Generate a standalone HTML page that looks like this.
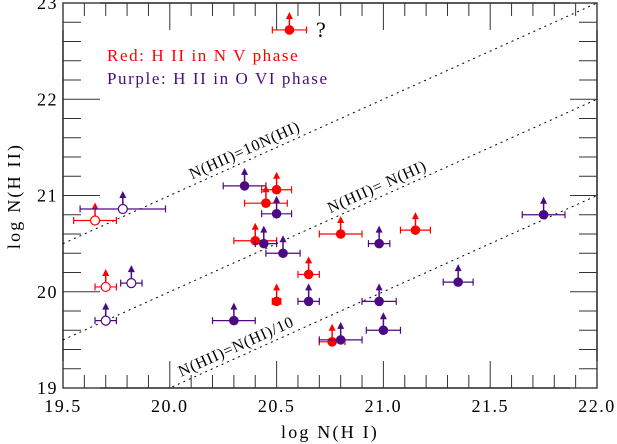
<!DOCTYPE html>
<html><head><meta charset="utf-8"><style>
body{margin:0;background:#fff}
svg{display:block}
text{font-family:"Liberation Serif",serif;fill:#000}
</style></head><body>
<svg id="chart" width="617" height="444" viewBox="0 0 617 444" xmlns="http://www.w3.org/2000/svg">
<defs><clipPath id="clip"><rect x="63" y="3" width="534" height="385"/></clipPath></defs>
<g id="lines" clip-path="url(#clip)"></g>
<g id="axes"></g>
<g id="marks"></g>
<text x="107" y="61" font-size="17" letter-spacing="1.6" style="fill:#ff0000">Red: H II in N V phase</text>
<text x="107" y="84" font-size="17" letter-spacing="1.6" style="fill:#4b0a82">Purple: H II in O VI phase</text>
<text x="316" y="37" font-size="22">?</text>
<text x="330" y="438" font-size="18" letter-spacing="2.2" text-anchor="middle">log N(H I)</text>
<text x="0" y="0" font-size="18" letter-spacing="2.2" text-anchor="middle" transform="translate(20,196) rotate(-90)">log N(H II)</text>
</svg>
<script>
const xVals = [20.56,19.65,19.78,20.35,20.50,20.45,20.50,20.40,20.44,20.53,19.70,19.82,19.70,20.30,20.50,20.65,20.80,20.98,21.15,20.65,20.98,21.00,20.76,20.80,21.35,21.75];
const yVals = [22.72,20.74,20.86,21.10,21.06,20.92,20.81,20.53,20.50,20.40,20.05,20.09,19.70,19.70,19.90,19.90,20.60,20.50,20.64,20.18,19.90,19.60,19.48,19.50,20.10,20.80];
const xLo   = [20.48,19.55,19.58,20.25,20.43,20.35,20.43,20.30,20.40,20.45,19.65,19.77,19.65,20.20,20.48,20.60,20.70,20.93,21.08,20.60,20.90,20.92,20.70,20.70,21.28,21.65];
const xHi   = [20.64,19.75,19.98,20.45,20.57,20.55,20.57,20.50,20.50,20.61,19.75,19.87,19.75,20.40,20.52,20.70,20.90,21.03,21.22,20.70,21.06,21.08,20.82,20.90,21.42,21.85];
const phase = ["N","N","O","O","N","N","O","N","O","O","N","O","O","O","N","O","N","O","N","N","O","O","N","O","O","O"];
const hollow= [0,1,1,0,0,0,0,0,0,0,1,1,1,0,0,0,0,0,0,0,0,0,0,0,0,0];
const xTicks = ["19.5","20.0","20.5","21.0","21.5","22.0"];
const yTicks = ["19","20","21","22","23"];
const ratios = [1,0,-1];
const ratioLabels = ["N(HII)=10N(HI)","N(HII)= N(HI)","N(HII)=N(HI)/10"];
const ratioLabelX = [20.36,20.98,20.32];

const NS="http://www.w3.org/2000/svg";
const L=63,R=597,T=3,B=388;
const sx=v=>L+(v-19.5)*(R-L)/2.5;
const sy=v=>B-(v-19)*(B-T)/4;
function mk(tag,attrs,parent){const e=document.createElementNS(NS,tag);for(const k in attrs)e.setAttribute(k,attrs[k]);parent.appendChild(e);return e;}
const axes=document.getElementById('axes'),marks=document.getElementById('marks'),lines=document.getElementById('lines');
const svg=document.getElementById('chart');

ratios.forEach((d,i)=>{
  const ln=mk('line',{x1:sx(19.5),y1:sy(19.5+d),x2:sx(22),y2:sy(22+d),stroke:'#000','stroke-width':1,'stroke-dasharray':'2,4'},lines);
  
  
  const ang=-Math.atan((B-T)/4/((R-L)/2.5))*180/Math.PI;
  const lx=sx(ratioLabelX[i]), ly=sy(ratioLabelX[i]+d)-6;
  const t=mk('text',{x:lx,y:ly,'font-size':16,'letter-spacing':0.8,'text-anchor':'middle',transform:`rotate(${ang} ${lx} ${ly})`},svg);
  t.textContent=ratioLabels[i];
  
  
});

const fr=mk('rect',{x:L,y:T,width:R-L,height:B-T,fill:'none',stroke:'#000','stroke-width':1.3},axes);


for(let k=0;k<=25;k++){
  const v=19.5+k*0.1, x=sx(v), len=(k%5===0)?27:13;
  mk('line',{x1:x,y1:B,x2:x,y2:B-len,stroke:'#333','stroke-width':1},axes);
  mk('line',{x1:x,y1:T,x2:x,y2:T+len,stroke:'#333','stroke-width':1},axes);
}
xTicks.forEach(s=>{const v=parseFloat(s);const t=mk('text',{x:sx(v),y:412,'font-size':18,'letter-spacing':1.5,'text-anchor':'middle'},axes);t.textContent=s;
  
  });
for(let k=0;k<=20;k++){
  const v=19+k*0.2, y=sy(v), big=(k%5===0);
  mk('line',{x1:L,y1:y,x2:L+(big?37:18),y2:y,stroke:'#333','stroke-width':1},axes);
  mk('line',{x1:R,y1:y,x2:R-(big?27:18),y2:y,stroke:'#333','stroke-width':1},axes);
}
yTicks.forEach(s=>{const v=parseFloat(s);const t=mk('text',{x:58,y:sy(v)+6,'font-size':18,'letter-spacing':1.5,'text-anchor':'end'},axes);t.textContent=s;
  
  });

xVals.forEach((xv,i)=>{
  const c=phase[i]==='N'?'#ff0000':'#4b0a82';
  const g=mk('g',{},marks);
  
  
  const cx=sx(xv),cy=sy(yVals[i]),x1=sx(xLo[i]),x2=sx(xHi[i]);
  mk('line',{x1:x1,y1:cy,x2:x2,y2:cy,stroke:c,'stroke-width':1.2},g);
  mk('line',{x1:x1,y1:cy-3.5,x2:x1,y2:cy+3.5,stroke:c,'stroke-width':1.2},g);
  mk('line',{x1:x2,y1:cy-3.5,x2:x2,y2:cy+3.5,stroke:c,'stroke-width':1.2},g);
  mk('line',{x1:cx,y1:cy,x2:cx,y2:cy-12,stroke:c,'stroke-width':1.5},g);
  mk('polygon',{points:`${cx-3.5},${cy-11} ${cx+3.5},${cy-11} ${cx},${cy-18}`,fill:c},g);
  if(hollow[i]) mk('circle',{cx:cx,cy:cy,r:4.5,fill:'#fff',stroke:c,'stroke-width':1.2},g);
  else mk('circle',{cx:cx,cy:cy,r:4.8,fill:c},g);
});
</script>
</body></html>
